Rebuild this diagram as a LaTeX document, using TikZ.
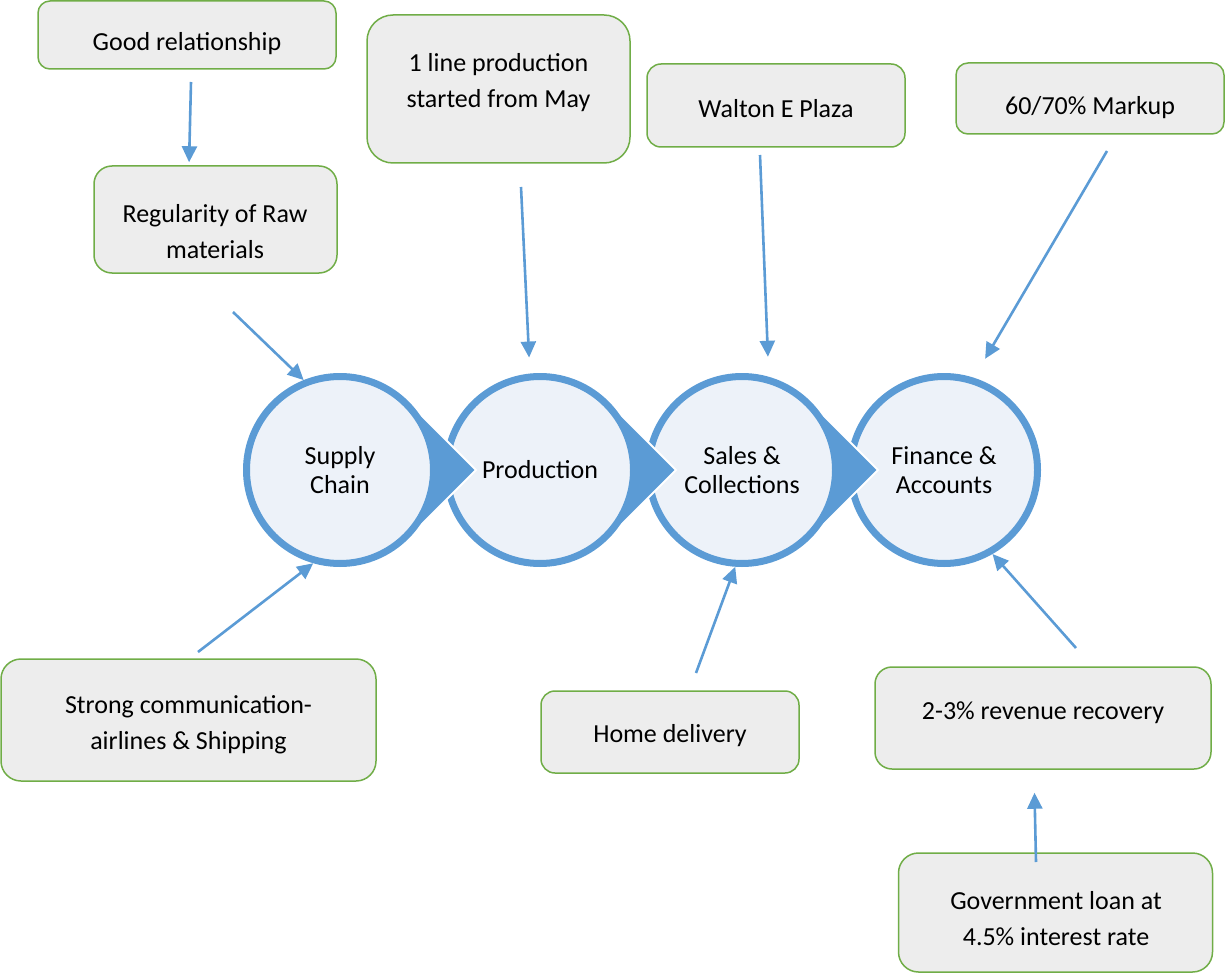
\documentclass[tikz,border=0pt]{standalone}
\usepackage{fontspec}
\setmainfont{Carlito}
\usetikzlibrary{arrows.meta,calc}
\definecolor{ringblue}{HTML}{5B9BD5}
\definecolor{stagefill}{HTML}{EDF2F9}
\definecolor{boxgray}{HTML}{EDEDED}
\definecolor{boxgreen}{HTML}{70AD47}
\begin{document}
\begin{tikzpicture}[x=0.5pt,y=-0.5pt,
	stage/.style={circle,draw=ringblue,line width=3.5pt,fill=stagefill,minimum size=93.5pt,inner sep=0pt,align=center,font=\fontsize{13pt}{14.5pt}\selectfont},
	chev/.style={fill=ringblue,draw=white,line width=1pt},
	infobox/.style={rectangle,rounded corners=#1,draw=boxgreen,line width=0.75pt,fill=boxgray,inner sep=0pt},
	note/.style={align=center,inner sep=0pt,font=\fontsize{13pt}{18pt}\selectfont},
	arr/.style={draw=ringblue,line width=1.3pt,-{Triangle[length=8pt,width=7.5pt]}}]
		\useasboundingbox (0,0) rectangle (1225,973);
		
		\node[infobox=6pt,minimum width=149pt,minimum height=34pt] (gr) at (187,35) {};
		\node[infobox=9pt,minimum width=121.5pt,minimum height=53.5pt] (rm) at (215.5,219.5) {};
		\node[infobox=13pt,minimum width=131.5pt,minimum height=74pt] (lp) at (498.5,89) {};
		\node[infobox=7pt,minimum width=129pt,minimum height=41.5pt] (wp) at (776,105.5) {};
		\node[infobox=6pt,minimum width=134pt,minimum height=35.5pt] (mk) at (1090,98.5) {};
		\node[infobox=10pt,minimum width=187.5pt,minimum height=61pt] (st) at (188.5,720) {};
		\node[infobox=7pt,minimum width=129pt,minimum height=41pt] (hd) at (670,732) {};
		\node[infobox=8.5pt,minimum width=168pt,minimum height=51pt] (rr) at (1043,718) {};
		\node[infobox=10pt,minimum width=157pt,minimum height=59.5pt] (gl) at (1055.5,912.5) {};
		
		\node[note] (gr-txt) at (187,44) {Good relationship};
		\node[note] (rm-txt) at (215,232) {Regularity of Raw\\materials};
		\node[note] (lp-txt) at (498.5,83) {1 line production\\started from May};
		\node[note] (wp-txt) at (776,109) {Walton E Plaza};
		\node[note] (mk-txt) at (1090,108) {60/70\% Markup};
		\node[note] (st-txt) at (188.5,725) {Strong communication-\\airlines \& Shipping};
		\node[note] (hd-txt) at (670,736) {Home delivery};
		\node[note] (rr-txt) at (1043,713) {2-3\% revenue recovery};
		\node[note] (gl-txt) at (1056,919) {Government loan at\\4.5\% interest rate};
		
		\node[stage] (fa) at (944,470) {Finance \&\\Accounts};
		\foreach \cx/\nm/\txt in {742/sa/{Sales \&\\Collections},540/pr/Production,340/sc/{Supply\\Chain}}{
			\filldraw[chev] (\cx+68,402) -- (\cx+136,470) -- (\cx+68,538) -- (\cx,470) -- cycle;
			\node[stage] (\nm) at (\cx,470) {\txt};
		}
		
		\coordinate (gr-out) at (191,82);
		\coordinate (rm-out) at (233,312);
		\coordinate (st-out) at (198,652);
		\coordinate (lp-out) at (521,187);
		\coordinate (wp-out) at (760,155);
		\coordinate (mk-out) at (1107,151);
		\coordinate (hd-out) at (696,673);
		\coordinate (rr-out) at (1076,648);
		\coordinate (gl-out) at (1036,862);
		
		\draw[arr,shorten >=1.5pt] (gr-out) -- ($(rm.north)+(-26.5,0)$);
		\draw[arr] (rm-out) -- (sc.112);
		\draw[arr] (st-out) -- (sc.254);
		\draw[arr,shorten >=8pt] (lp-out) -- (pr.96);
		\draw[arr,shorten >=10pt] (wp-out) -- (sa.74);
		\draw[arr,shorten >=11pt] (mk-out) -- (fa.72);
		\draw[arr] (hd-out) -- (sa.266);
		\draw[arr] (rr-out) -- (fa.300);
		\draw[arr,shorten >=11.5pt] (gl-out) -- ($(rr.south)+(-9,0)$);
\end{tikzpicture}
\end{document}
